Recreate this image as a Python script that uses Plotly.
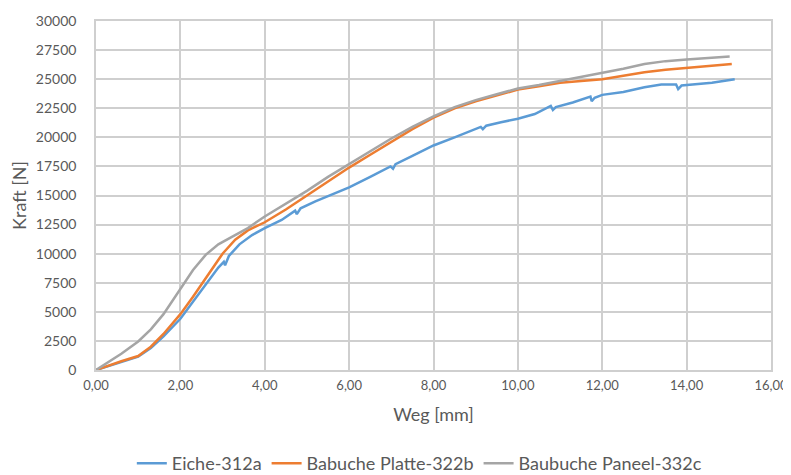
import plotly.graph_objects as go

# Kraft-Weg-Kurven aus dem Druckversuch
eiche_weg = [0, 0.3, 0.6, 1.0, 1.3, 1.6, 2.0, 2.3, 2.6, 2.9, 3.03, 3.06, 3.15, 3.4, 3.7, 4.0,
             4.4, 4.72, 4.76, 4.85, 5.2, 5.6, 6.0, 6.5, 6.98, 7.04, 7.1, 7.5, 8.0, 8.5, 9.12,
             9.17, 9.25, 9.6, 10.0, 10.4, 10.78, 10.83, 10.9, 11.3, 11.72, 11.75, 11.82, 12.0,
             12.5, 13.0, 13.4, 13.75, 13.8, 13.88, 14.2, 14.6, 15.14]
eiche_kraft = [0, 350, 700, 1150, 1900, 2900, 4400, 5900, 7400, 8800, 9300, 9000, 9800, 10800,
               11600, 12200, 12900, 13700, 13400, 13900, 14500, 15100, 15700, 16600, 17500, 17300,
               17700, 18400, 19300, 20000, 20900, 20700, 21000, 21300, 21600, 22000, 22700, 22350,
               22600, 23000, 23500, 23100, 23400, 23650, 23900, 24300, 24550, 24550, 24150, 24450,
               24550, 24700, 25000]

platte_weg = [0, 0.3, 0.6, 1.0, 1.3, 1.6, 2.0, 2.3, 2.6, 3.0, 3.3, 3.6, 4.0, 4.5, 5.0, 5.5, 6.0,
              6.5, 7.0, 7.5, 8.0, 8.5, 9.0, 9.5, 10.0, 10.5, 11.0, 11.5, 12.0, 12.5, 13.0, 13.5,
              14.0, 14.5, 15.07]
platte_kraft = [0, 400, 750, 1200, 2000, 3100, 4800, 6300, 7900, 10000, 11200, 12000, 12700,
                13800, 15000, 16200, 17400, 18500, 19600, 20700, 21700, 22500, 23100, 23600, 24100,
                24400, 24700, 24850, 25000, 25300, 25600, 25800, 25950, 26100, 26300]

paneel_weg = [0, 0.3, 0.6, 1.0, 1.3, 1.6, 2.0, 2.3, 2.6, 2.9, 3.2, 3.6, 4.0, 4.5, 5.0, 5.5, 6.0,
              6.5, 7.0, 7.5, 8.0, 8.5, 9.0, 9.5, 10.0, 10.5, 11.0, 11.5, 12.0, 12.5, 13.0, 13.5,
              14.0, 14.5, 15.02]
paneel_kraft = [0, 700, 1400, 2450, 3500, 4800, 7000, 8600, 9900, 10800, 11400, 12200, 13200,
                14300, 15400, 16600, 17700, 18800, 19900, 20900, 21800, 22600, 23200, 23700, 24200,
                24500, 24850, 25150, 25500, 25900, 26300, 26550, 26700, 26850, 26950]

fig = go.Figure()

fig.add_trace(go.Scatter(x=eiche_weg, y=eiche_kraft, mode='lines', name='Eiche-312a',
                         line=dict(color='#5B9BD5', width=2.5)))
fig.add_trace(go.Scatter(x=platte_weg, y=platte_kraft, mode='lines', name='Babuche Platte-322b',
                         line=dict(color='#ED7D31', width=2.5)))
fig.add_trace(go.Scatter(x=paneel_weg, y=paneel_kraft, mode='lines', name='Baubuche Paneel-332c',
                         line=dict(color='#A5A5A5', width=2.5)))

grid = '#CFCFCF'
fig.update_layout(
    width=791, height=475,
    margin=dict(l=88, r=28, t=13, b=113, autoexpand=False),
    plot_bgcolor='white', paper_bgcolor='white',
    separators=',.',
    font=dict(family='Lato, Open Sans, sans-serif', size=14, color='#595959'),
    xaxis=dict(title=dict(text='Weg [mm]', font=dict(size=18), standoff=16),
               range=[0, 16], dtick=2, tickformat='.2f', tickfont=dict(size=13),
               showgrid=True, gridcolor=grid, gridwidth=1.5,
               showline=True, linecolor=grid, linewidth=1.5, mirror=True,
               zeroline=False, ticks='outside', ticklen=3, tickcolor='rgba(0,0,0,0)'),
    yaxis=dict(title=dict(text='Kraft [N]', font=dict(size=18), standoff=8),
               range=[0, 30000], dtick=2500, tickformat='d',
               showgrid=True, gridcolor=grid, gridwidth=1.5,
               showline=True, linecolor=grid, linewidth=1.5, mirror=True,
               zeroline=False, ticks='outside', ticklen=15, tickcolor='rgba(0,0,0,0)'),
    legend=dict(orientation='h', x=0.52, xanchor='center', xref='container',
                y=-0.268, yanchor='middle', yref='paper',
                font=dict(size=18)),
)

fig.write_html("out.html")
